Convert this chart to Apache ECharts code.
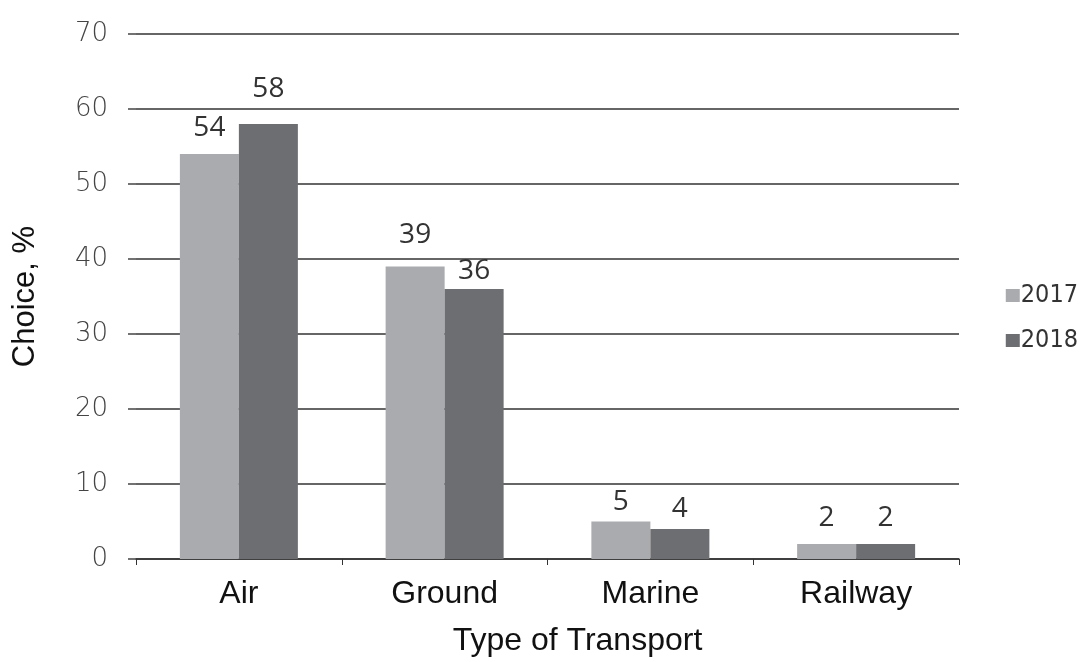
<!DOCTYPE html>
<html>
<head>
<meta charset="utf-8">
<script src="https://cdn.jsdelivr.net/npm/echarts@6/dist/echarts.min.js"></script>
<style>
  html, body { margin: 0; padding: 0; background: #fff; }
  #chart { width: 1087px; height: 662px; }
</style>
</head>
<body>
<div id="chart"></div>
<script>
// Transport preference by year
const categories = ['Air', 'Ground', 'Marine', 'Railway'];
const seriesNames = ['2017', '2018'];
const values2017 = [54, 39, 5, 2];
const values2018 = [58, 36, 4, 2];
const yTicks = [0, 10, 20, 30, 40, 50, 60, 70];

const colors = ['#a9abae', '#6d6e72'];
const allValues = [values2017, values2018];
// hand-placed gap between each value label and its bar, per series
const labelGaps = [[12, 17, 5, 12], [21, 4, 6, 12]];

const chart = echarts.init(document.getElementById('chart'));

chart.setOption({
  animation: false,
  backgroundColor: '#ffffff',
  grid: { left: 136, right: 128, top: 34, bottom: 101 },
  legend: {
    orient: 'vertical',
    right: 4,
    top: 278,
    itemWidth: 14,
    itemHeight: 13,
    itemGap: 20,
    icon: 'rect',
    textStyle: { fontFamily: 'DejaVu Sans Condensed', fontSize: 25, color: '#333', padding: [0, 0, 0, -4] },
    data: seriesNames
  },
  xAxis: {
    type: 'category',
    data: categories,
    name: 'Type of Transport',
    nameLocation: 'middle',
    nameGap: 66,
    nameTextStyle: {
      fontFamily: 'Liberation Sans', fontSize: 32, color: '#111',
      verticalAlign: 'top', padding: [0, 0, 0, 60]
    },
    axisLine: { lineStyle: { color: '#333', width: 1.5 } },
    axisTick: { show: true, length: 6, lineStyle: { color: '#333' } },
    axisLabel: { fontFamily: 'Liberation Sans', fontSize: 32, color: '#111', margin: 19 }
  },
  yAxis: {
    type: 'value',
    min: yTicks[0],
    max: yTicks[yTicks.length - 1],
    interval: yTicks[1] - yTicks[0],
    name: 'Choice, %',
    nameLocation: 'middle',
    nameGap: 95,
    nameRotate: 90,
    nameTextStyle: { fontFamily: 'Liberation Sans', fontSize: 31, color: '#111' },
    axisLine: { show: false },
    axisTick: { show: true, length: 8, lineStyle: { color: '#444', width: 1.5 } },
    axisLabel: {
      fontFamily: 'DejaVu Sans', fontWeight: 200, fontSize: 26, color: '#444',
      margin: 28, padding: [0, 0, 12, 0]
    },
    splitLine: { show: true, lineStyle: { color: '#333', width: 1.5 } }
  },
  series: seriesNames.map((name, i) => ({
    name: name,
    type: 'bar',
    data: allValues[i].map((v, j) => ({
      value: v,
      label: { distance: labelGaps[i][j] }
    })),
    barWidth: 59,
    barGap: '0%',
    itemStyle: { color: colors[i] },
    label: {
      show: true,
      position: 'top',
      fontFamily: 'Open Sans',
      fontSize: 28,
      color: '#333'
    }
  }))
});
</script>
</body>
</html>
